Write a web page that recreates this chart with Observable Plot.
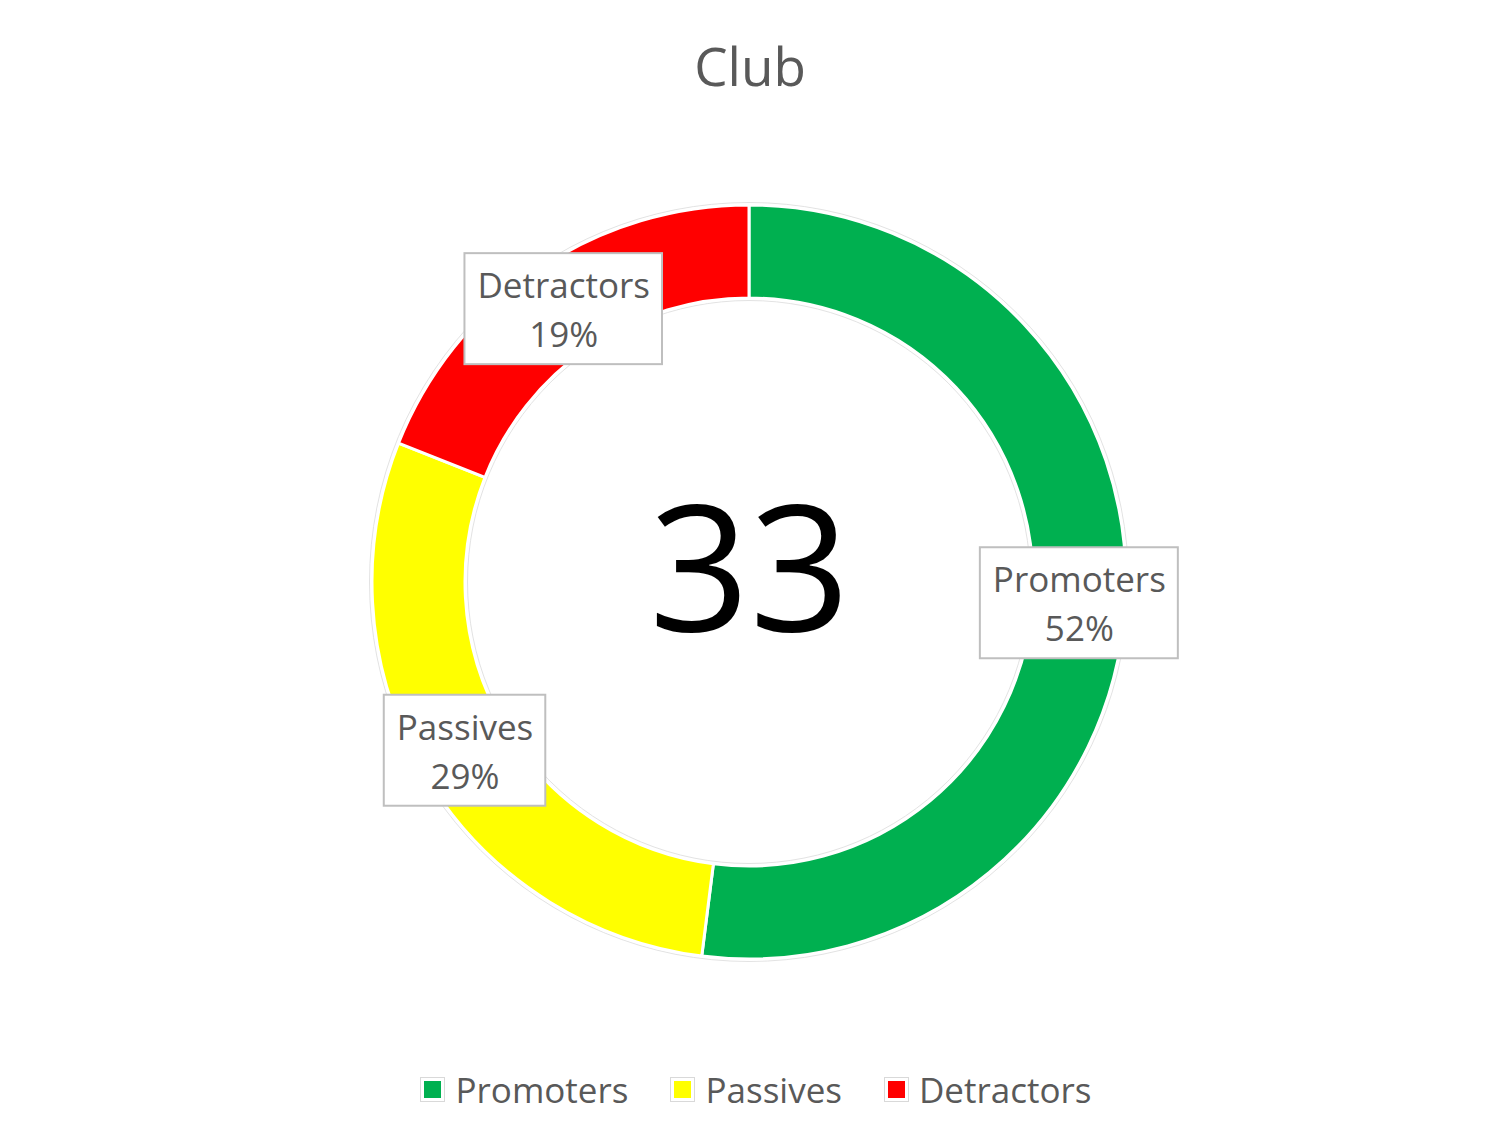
<!DOCTYPE html>
<html>
<head>
<meta charset="utf-8">
<script src="https://cdn.jsdelivr.net/npm/d3@7"></script>
<script src="https://cdn.jsdelivr.net/npm/@observablehq/plot@0.6"></script>
<style>
  html, body { margin: 0; padding: 0; background: #fff; }
  body { width: 1500px; height: 1146px; overflow: hidden; font-family: "Open Sans", sans-serif; }
  #title { height: 130px; line-height: 131px; text-align: center; font-size: 53px; color: #595959; box-sizing: border-box; }
  #chart { height: 900px; margin-top: 2px; }
  #legend { display: flex; justify-content: center; align-items: center; gap: 0; margin-top: 27px; font-size: 35px; color: #595959; height: 60px; padding-left: 12px; }
  .item { display: flex; align-items: center; margin: 0 21px; }
  .sw { width: 23px; height: 23px; border: 1px solid #d9d9d9; display: flex; align-items: center; justify-content: center; margin-right: 10px; background: #fff; }
  .sw span { width: 17px; height: 17px; display: block; }
</style>
</head>
<body>
<div id="title"></div>
<div id="chart"></div>
<div id="legend"></div>
<script>
const titleText = "Club";
const categories = ["Promoters", "Passives", "Detractors"];
const shares = [52, 29, 19];
const colors = ["#00B050", "#FFFF00", "#FF0000"];
const centerValue = 33;

const data = categories.map((c, i) => ({category: c, share: shares[i], color: colors[i]}));

const W = 1500, H = 900;
const cx = -1; // slight offset of the ring center from page center
const outerR = 377, innerR = 284;
const FONT = '"Open Sans", sans-serif';
const labelSize = 35;

const pie = d3.pie().value(d => d.share).sort(null);
const arcs = pie(data);
const arcGen = d3.arc().innerRadius(innerR).outerRadius(outerR);

// label positions at arc centroids (data units = pixels, centered)
const ctx = document.createElement("canvas").getContext("2d");
ctx.font = `${labelSize}px ${FONT}`;
const labels = arcs.map(a => {
  const [lx, ly] = arcGen.centroid(a);
  const line1 = a.data.category, line2 = `${a.data.share}%`;
  const tw = Math.max(ctx.measureText(line1).width, ctx.measureText(line2).width);
  return {x: lx + cx, y: ly, text: `${line1}\n${line2}`, hw: tw / 2 + 12.5, hh: 55.5};
});

function ringMark(index, scales, values, dimensions) {
  const sx = scales.x, sy = scales.y;
  const g = d3.create("svg:g").attr("transform", `translate(${sx(cx)},${sy(0)})`);
  // faint outline rings
  g.append("circle").attr("r", outerR + 2.5).attr("fill", "none").attr("stroke", "#e3e3e3").attr("stroke-width", 1);
  g.append("circle").attr("r", innerR - 2.5).attr("fill", "none").attr("stroke", "#e3e3e3").attr("stroke-width", 1);
  g.selectAll("path").data(arcs).join("path")
    .attr("d", arcGen)
    .attr("fill", d => d.data.color)
    .attr("stroke", "#fff")
    .attr("stroke-width", 3)
    .attr("stroke-linejoin", "round");
  return g.node();
}

const plot = Plot.plot({
  width: W,
  height: H,
  margin: 0,
  x: {type: "linear", domain: [-W / 2, W / 2], range: [0, W], axis: null},
  y: {type: "linear", domain: [-H / 2, H / 2], range: [0, H], axis: null},
  style: {fontFamily: FONT, background: "#fff"},
  marks: [
    ringMark,
    Plot.text([centerValue], {x: () => cx, y: () => -8, text: d => String(d), fontSize: 176, fill: "#000", fontFamily: FONT}),
    Plot.rect(labels, {x1: d => d.x - d.hw, x2: d => d.x + d.hw, y1: d => d.y - d.hh, y2: d => d.y + d.hh, fill: "#fff", stroke: "#BFBFBF", strokeWidth: 2}),
    Plot.text(labels, {x: "x", y: "y", text: "text", dy: -2, fontSize: labelSize, lineHeight: 1.4, fill: "#595959", fontFamily: FONT})
  ]
});
document.getElementById("chart").appendChild(plot);
document.getElementById("title").textContent = titleText;

const legend = d3.select("#legend");
data.forEach(d => {
  const it = legend.append("div").attr("class", "item");
  it.append("div").attr("class", "sw").append("span").style("background", d.color);
  it.append("div").text(d.category);
});
</script>
</body>
</html>
